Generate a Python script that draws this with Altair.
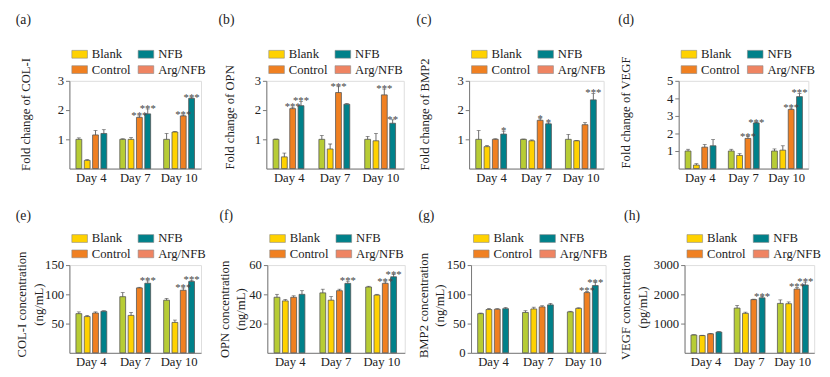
import altair as alt
import pandas as pd

SERIF = "Liberation Serif"

days = ["Day 4", "Day 7", "Day 10"]
groups = ["Blank", "Control", "NFB", "Arg/NFB"]
bar_colors = ["#B7CC35", "#FFD200", "#F08021", "#00818A"]
legend_names = ["Blank", "Control", "NFB", "Arg/NFB"]
legend_colors = ["#FFD200", "#F08021", "#00818A", "#EF8462"]

panel_labels = ["(a)", "(b)", "(c)", "(d)", "(e)", "(f)", "(g)", "(h)"]
y_titles = [
    "Fold change of COL-I",
    "Fold change of OPN",
    "Fold change of BMP2",
    "Fold change of  VEGF",
    ["COL-I concentration", "(ng/mL)"],
    ["OPN concentration", "(ng/mL)"],
    ["BMP2 concentration", "(ng/mL)"],
    ["VEGF concentration", "(pg/mL)"],
]
y_max = [3, 3, 3, 5, 150, 60, 150, 3000]
y_ticks = [
    [1, 2, 3], [1, 2, 3], [1, 2, 3], [1, 2, 3, 4, 5],
    [50, 100, 150], [20, 40, 60], [0, 50, 100, 150], [1000, 2000, 3000],
]

# values ordered Day 4 (Blank, Control, NFB, Arg/NFB), Day 7 (...), Day 10 (...)
a_mean = [1.0, 0.28, 1.15, 1.2, 1.0, 1.0, 1.75, 1.87, 1.0, 1.25, 1.8, 2.4]
a_err = [0.05, 0.03, 0.15, 0.13, 0.02, 0.06, 0.05, 0.17, 0.2, 0.02, 0.03, 0.02]
a_sig = ["", "", "", "", "", "", "***", "***", "", "", "***", "***"]

b_mean = [1.0, 0.4, 2.05, 2.15, 1.0, 0.67, 2.6, 2.2, 1.0, 0.95, 2.52, 1.55]
b_err = [0.01, 0.13, 0.05, 0.15, 0.13, 0.17, 0.2, 0.03, 0.1, 0.25, 0.2, 0.12]
b_sig = ["", "", "***", "***", "", "", "***", "", "", "", "***", "**"]

c_mean = [1.0, 0.75, 1.0, 1.18, 1.0, 0.95, 1.65, 1.53, 1.0, 0.95, 1.5, 2.35]
c_err = [0.3, 0.04, 0.02, 0.1, 0.01, 0.03, 0.05, 0.03, 0.17, 0.01, 0.07, 0.22]
c_sig = ["", "", "", "*", "", "", "*", "*", "", "", "", "***"]

d_mean = [1.0, 0.2, 1.22, 1.3, 1.0, 0.75, 1.72, 2.6, 1.0, 1.05, 3.37, 4.1]
d_err = [0.1, 0.08, 0.15, 0.35, 0.1, 0.1, 0.1, 0.02, 0.12, 0.25, 0.08, 0.18]
d_sig = ["", "", "", "", "", "", "***", "***", "", "", "***", "***"]

e_mean = [67, 62, 68, 71, 96, 64, 111, 119, 90, 52, 107, 122]
e_err = [3, 2, 2, 1, 7, 5, 1, 4, 3, 4, 4, 2]
e_sig = ["", "", "", "", "", "", "", "***", "", "", "***", "***"]

f_mean = [38, 35.5, 38, 40, 41, 36, 42.5, 47.5, 45, 39.5, 47.5, 52]
f_err = [2, 1, 1, 2.5, 2.5, 2.5, 1, 1.5, 0.5, 0.5, 1, 1.5]
f_sig = ["", "", "", "", "", "", "", "***", "", "", "***", "***"]

g_mean = [67, 74, 74.5, 75.5, 69, 75, 78.5, 82, 70, 76, 103, 115]
g_err = [1, 2, 1, 2, 3, 3, 2, 2.5, 1, 1, 2, 5]
g_sig = ["", "", "", "", "", "", "", "", "", "", "***", "***"]

h_mean = [610, 590, 650, 710, 1530, 1350, 1820, 1880, 1690, 1680, 2180, 2320]
h_err = [10, 10, 15, 15, 90, 40, 15, 40, 120, 60, 60, 100]
h_sig = ["", "", "", "", "", "", "", "***", "", "", "***", "***"]

means = [a_mean, b_mean, c_mean, d_mean, e_mean, f_mean, g_mean, h_mean]
errs = [a_err, b_err, c_err, d_err, e_err, f_err, g_err, h_err]
sigs = [a_sig, b_sig, c_sig, d_sig, e_sig, f_sig, g_sig, h_sig]

# layout per column / panel
col_widths = [135, 141, 138, 133]
label_dx = [-55, -49, -54, -62]
title_x = [-45, -38, -46, -54, -49, -44, -49, -60]
title_y = [34, 37, 34, 32, 40, 45, 41, 43]
PLOT_H = 90


def panel(i):
    col = i % 4
    row = i // 4
    df = pd.DataFrame({
        "day": [d for d in days for _ in groups],
        "group": groups * 3,
        "mean": means[i],
        "err": errs[i],
        "sig": sigs[i],
    })
    df["top"] = df["mean"] + df["err"]
    yscale = alt.Scale(domain=[0, y_max[i]], nice=False, zero=True)
    base = alt.Chart(df).encode(
        x=alt.X("day:N", sort=days,
                scale=alt.Scale(paddingInner=0.24, paddingOuter=0.12),
                axis=alt.Axis(title=None, labelAngle=0, ticks=False, labelPadding=3,
                              labelFont=SERIF, labelFontSize=13, labelColor="#222",
                              domainColor="#777", domainWidth=1)),
        xOffset=alt.XOffset("group:N", sort=groups,
                            scale=alt.Scale(paddingInner=0.3, paddingOuter=0.15)),
    )
    yaxis = alt.Axis(
        values=y_ticks[i], format="d", title=y_titles[i], tickSize=4, labelPadding=2,
        labelFont=SERIF, labelFontSize=13, labelColor="#222",
        titleFont=SERIF, titleFontSize=13, titleFontWeight="normal", titleColor="#222",
        titleAngle=270, titleBaseline="middle", titleAlign="center",
        titleX=title_x[i], titleY=title_y[i],
        titleLineHeight=17,
        domainColor="#777", tickColor="#777", grid=False,
    )
    bars = base.mark_bar(stroke="#555", strokeWidth=0.8).encode(
        y=alt.Y("mean:Q", scale=yscale, axis=yaxis),
        color=alt.Color("group:N", sort=groups,
                        scale=alt.Scale(domain=groups, range=bar_colors), legend=None),
    )
    rules = base.mark_rule(color="#444", strokeWidth=0.8).encode(
        y=alt.Y("mean:Q", scale=yscale, axis=yaxis),
        y2="top:Q",
    )
    caps = base.mark_tick(color="#444", thickness=0.8, size=4, orient="horizontal").encode(
        y=alt.Y("top:Q", scale=yscale, axis=yaxis),
    )
    stars = base.mark_text(font=SERIF, fontSize=11, color="#444",
                           baseline="alphabetic", dy=3).encode(
        y=alt.Y("top:Q", scale=yscale, axis=yaxis),
        text="sig:N",
    )
    legdf = pd.DataFrame({"name": legend_names})
    leg = alt.Chart(legdf).transform_filter("false").mark_bar().encode(
        color=alt.Color("name:N", sort=legend_names,
                        scale=alt.Scale(domain=legend_names, range=legend_colors),
                        legend=alt.Legend(
                            title=None, orient="none", legendX=2, legendY=-36,
                            columns=2, symbolType="M-1,-0.5H1V0.5H-1Z", symbolSize=256,
                            symbolStrokeColor="#888", symbolStrokeWidth=0.6,
                            labelFont=SERIF, labelFontSize=13, labelColor="#222",
                            labelOffset=4, columnPadding=6, rowPadding=0, padding=0,
                        )),
    )
    return alt.layer(bars, rules, caps, stars, leg).resolve_scale(
        color="independent"
    ).properties(
        width=col_widths[col], height=PLOT_H,
        title=alt.TitleParams(text=panel_labels[i], anchor="start", frame="group",
                              dx=label_dx[col], offset=(19 if row == 0 else 7),
                              font=SERIF, fontSize=14, fontWeight="normal", color="#222"),
    )


top = alt.hconcat(*[panel(i) for i in range(4)], spacing=11).resolve_scale(
    color="independent", x="independent", y="independent")
bottom = alt.hconcat(*[panel(i) for i in range(4, 8)], spacing=11).resolve_scale(
    color="independent", x="independent", y="independent")

chart = alt.vconcat(top, bottom, spacing=24).resolve_scale(
    color="independent", x="independent", y="independent"
).properties(
    padding={"left": 7, "top": 0, "right": 0, "bottom": 0}
).configure_view(stroke=None).configure(background="white", font=SERIF)

chart.save("out.html", embed_options={"renderer": "svg", "actions": False})
